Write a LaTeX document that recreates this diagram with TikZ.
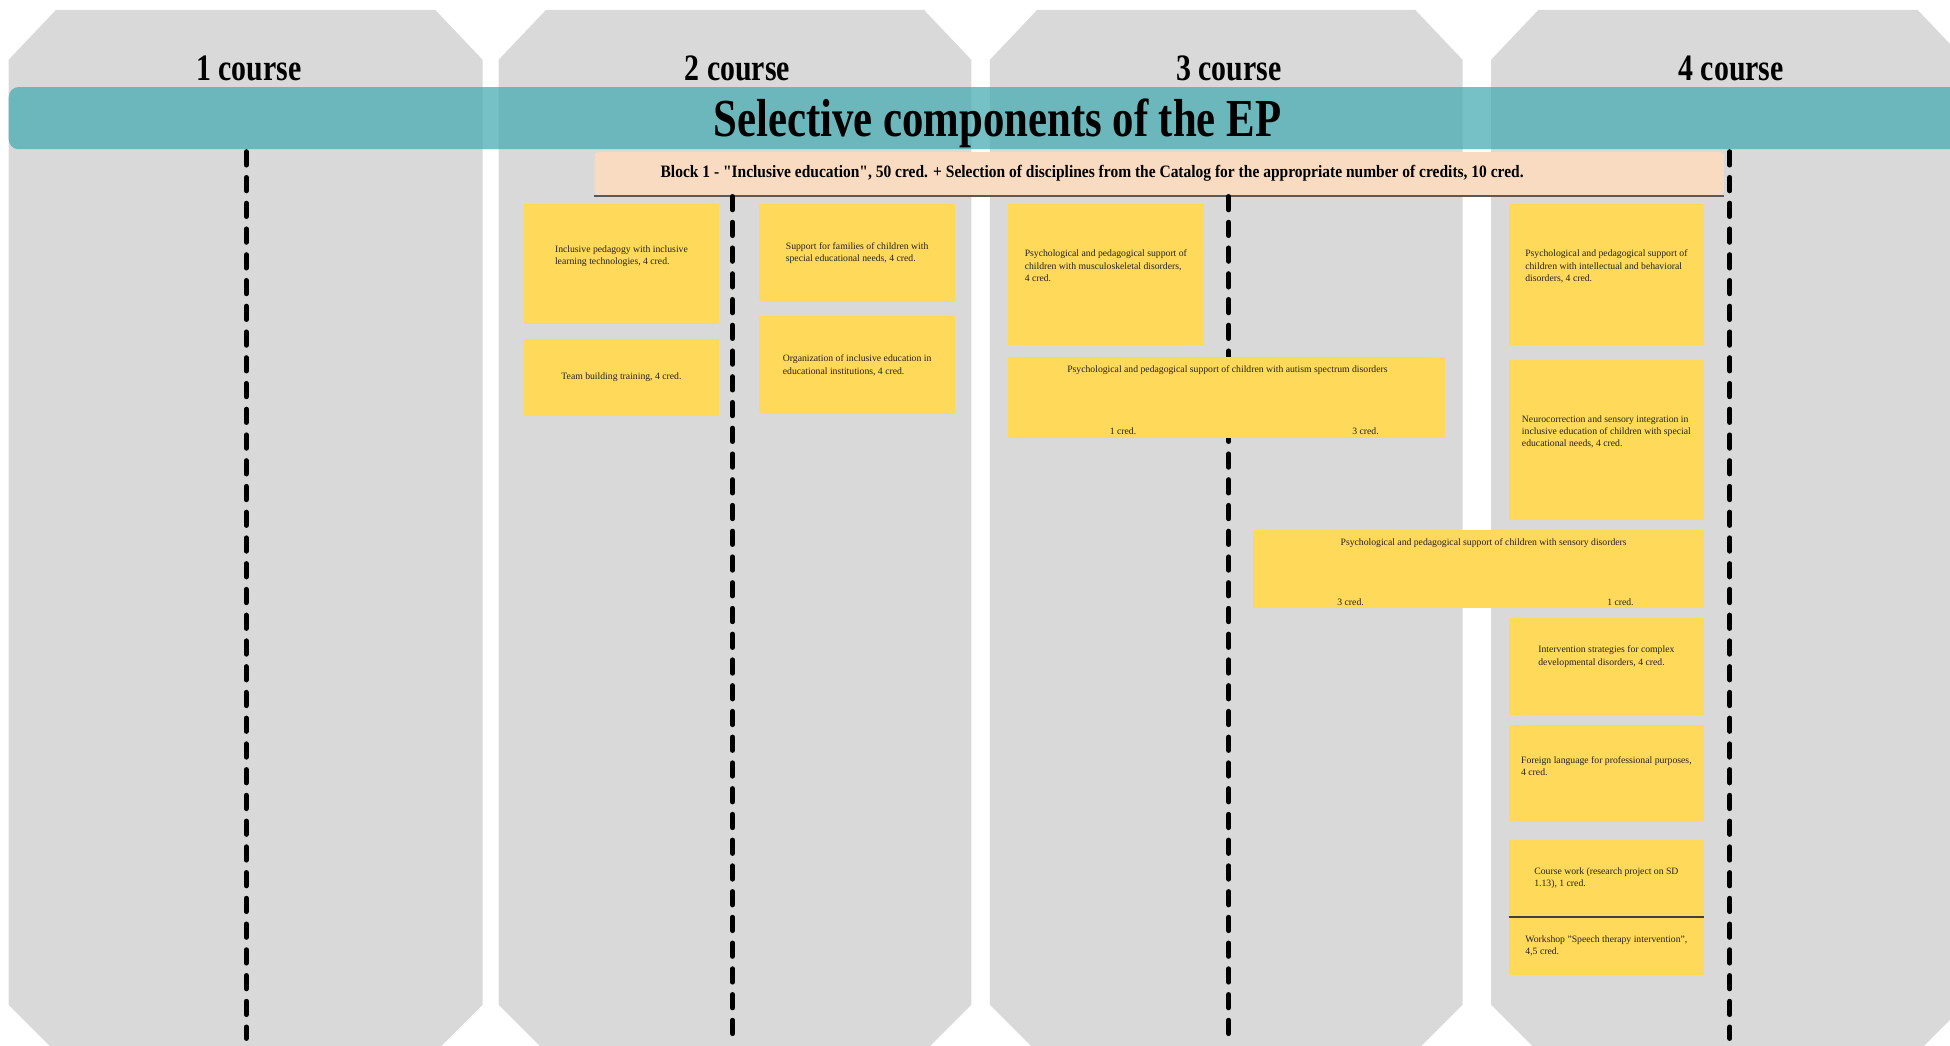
\documentclass[tikz,border=0pt]{standalone}
\usepackage{fontspec}
\setmainfont{Liberation Serif}
\newfontfamily\narrowfont[FakeStretch=0.8]{Liberation Serif}
\newfontfamily\blockfont[FakeStretch=0.89]{Liberation Serif}
\definecolor{colgray}{RGB}{217,217,217}
\definecolor{bandteal}{RGB}{71,172,177}
\definecolor{blockpeach}{RGB}{248,219,192}
\definecolor{cardyellow}{RGB}{255,217,89}
\definecolor{inkgray}{RGB}{35,35,35}
% one grey course column: left edge, right edge
\newcommand{\coursecol}[2]{%
  \fill[colgray] (#1,48) -- (#1+38,8) -- (#2-38,8) -- (#2,48) -- (#2,808) -- (#2-33,841) -- (#1+33,841) -- (#1,808) -- cycle;}
\begin{document}
\begin{tikzpicture}[
  x=1pt, y=-1pt,
  course/.style={font=\narrowfont\bfseries\fontsize{30}{30}\selectfont, inner sep=0pt},
  card/.style={fill=cardyellow, text=inkgray, inner sep=0pt, align=left, anchor=north west, font=\fontsize{7.8}{10}\selectfont},
  credit/.style={text=inkgray, inner sep=0pt, font=\fontsize{7.8}{10}\selectfont},
  divider/.style={line width=4pt, line cap=round, dash pattern=on 10.7pt off 10pt}
]
  \useasboundingbox (0,0) rectangle (1568,841);
  \begin{scope}
    \clip (0,0) rectangle (1568,841);
    \coursecol{7}{388}
    \coursecol{401}{781}
    \coursecol{796}{1176}
    \coursecol{1199}{1580}
    \fill[bandteal, fill opacity=.75, rounded corners=8pt] (7,70) rectangle (1620,120);
  \end{scope}

  \node[course] (h1) at (200,55) {1 course};
  \node[course] (h2) at (593,55) {2 course};
  \node[course] (h3) at (988,55) {3 course};
  \node[course] (h4) at (1392,55) {4 course};
  \node[font=\narrowfont\bfseries\fontsize{43}{43}\selectfont, inner sep=0pt] (title) at (802,99) {Selective components of the EP};

  \node[fill=blockpeach, rounded corners=3pt, minimum width=908pt, minimum height=35pt, inner sep=0pt, anchor=north west] (block) at (478,122) {};
  \draw[line width=1.5pt, draw=black!65] (block.south west) -- (block.south east);
  \node[font=\blockfont\bfseries\fontsize{14}{14}\selectfont, inner sep=0pt, anchor=west] (blocktext) at (531,139) {Block 1 - "Inclusive education", 50 cred. + Selection of disciplines from the Catalog for the appropriate number of credits, 10 cred.};

  \foreach \i/\x/\t in {1/198/122, 2/589/158, 3/988/158, 4/1391/122} {
    \coordinate (top\i) at (\x,\t);
    \coordinate (bot\i) at (\x,835);
    \draw[divider] (top\i) -- (bot\i);
  }

  % 2 course
  \node[card, minimum width=157pt, minimum height=96pt] (incl) at (421,164) {Inclusive pedagogy with inclusive\\learning technologies, 4 cred.\\[4pt]};
  \node[card, minimum width=157pt, minimum height=62pt] (team) at (421,272) {Team building training, 4 cred.};
  \node[card, minimum width=158pt, minimum height=79pt] (fam) at (610,164) {Support for families of children with\\special educational needs, 4 cred.};
  \node[card, minimum width=158pt, minimum height=79pt] (org) at (610,254) {Organization of inclusive education in\\educational institutions, 4 cred.};

  % 3 course
  \node[card, minimum width=158pt, minimum height=113pt] (musc) at (810,164) {Psychological and pedagogical support of\\children with musculoskeletal disorders,\\4 cred.\\[4pt]};
  \node[card, minimum width=352pt, minimum height=65pt] (autism) at (810,287) {};
  \node[credit] (autismname) at (987,298) {Psychological and pedagogical support of children with autism spectrum disorders};
  \node[credit] (autismA) at (903,347) {1 cred.};
  \node[credit] (autismB) at (1098,347) {3 cred.};
  \node[card, minimum width=363pt, minimum height=63pt] (sens) at (1007,426) {};
  \node[credit] (sensname) at (1193,437) {Psychological and pedagogical support of children with sensory disorders};
  \node[credit] (sensA) at (1086,484) {3 cred.};
  \node[credit] (sensB) at (1303,484) {1 cred.};

  % 4 course
  \node[card, minimum width=157pt, minimum height=113pt] (intel) at (1213,164) {Psychological and pedagogical support of\\children with intellectual and behavioral\\disorders, 4 cred.\\[4pt]};
  \node[card, minimum width=157pt, minimum height=129pt] (neuro) at (1213,289) {Neurocorrection and sensory integration in\\inclusive education of children with special\\educational needs, 4 cred.\\[4pt]};
  \node[card, minimum width=157pt, minimum height=78pt] (interv) at (1213,497) {Intervention strategies for complex\\developmental disorders, 4 cred.\\[8pt]};
  \node[card, minimum width=157pt, minimum height=78pt] (lang) at (1213,583) {Foreign language for professional purposes,\\4 cred.\\[2pt]};
  \node[card, minimum width=157pt, minimum height=62pt] (cwork) at (1213,675) {Course work (research project on SD\\1.13), 1 cred.};
  \node[card, minimum width=157pt, minimum height=47pt] (wshop) at (1213,737) {Workshop "Speech therapy intervention",\\4,5 cred.};
  \draw[line width=1pt, draw=black!75] (cwork.south west) -- (cwork.south east);
\end{tikzpicture}
\end{document}
